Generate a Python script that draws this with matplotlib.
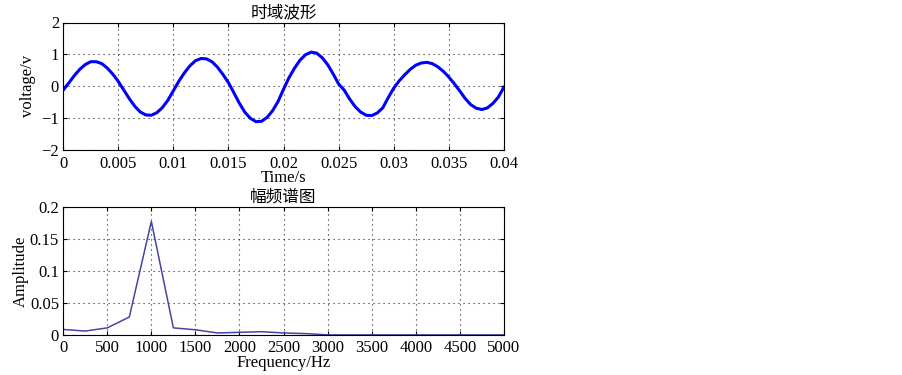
import matplotlib
matplotlib.use('Agg')
import matplotlib.pyplot as plt
import numpy as np

plt.rcParams['font.family'] = ['Liberation Serif', 'Noto Sans CJK SC']
plt.rcParams['font.size'] = 12

# 时域波形 (读图估计, 每 0.5 ms 一点)
t = np.arange(81) * 0.0005
voltage = [
    -0.12, 0.10, 0.33, 0.53, 0.68, 0.77, 0.77, 0.71, 0.57, 0.38,
    0.15, -0.12, -0.39, -0.63, -0.81, -0.90, -0.91, -0.83, -0.67, -0.44,
    -0.14, 0.16, 0.42, 0.64, 0.80, 0.87, 0.86, 0.77, 0.60, 0.37,
    0.11, -0.21, -0.54, -0.82, -1.01, -1.11, -1.10, -0.98, -0.77, -0.48,
    -0.09, 0.27, 0.57, 0.82, 0.99, 1.07, 1.04, 0.90, 0.68, 0.39,
    0.07, -0.12, -0.40, -0.64, -0.81, -0.91, -0.92, -0.84, -0.68, -0.36,
    -0.06, 0.17, 0.36, 0.53, 0.66, 0.73, 0.75, 0.71, 0.61, 0.47,
    0.29, 0.08, -0.15, -0.39, -0.58, -0.69, -0.73, -0.68, -0.54, -0.34,
    -0.03,
]

# 幅频谱
freq = np.arange(21) * 250
amplitude = [
    0.0085, 0.006, 0.011, 0.028, 0.178, 0.011, 0.008, 0.003, 0.004, 0.005,
    0.003, 0.002, 0.0, 0.0, 0.0, 0.0, 0.0, 0.0, 0.0, 0.0, 0.0,
]

fig = plt.figure(figsize=(9.03, 3.75), dpi=100)
ax1 = fig.add_axes([0.070, 0.600, 0.488, 0.340])
ax2 = fig.add_axes([0.070, 0.107, 0.488, 0.340])

ax1.plot(t, voltage, color='#0000ff', linewidth=2.2)
ax1.set_xlim(0, 0.04)
ax1.set_ylim(-2, 2)
ax1.set_xticks(np.arange(0, 0.0401, 0.005))
ax1.set_xticklabels(['0', '0.005', '0.01', '0.015', '0.02', '0.025', '0.03', '0.035', '0.04'])
ax1.set_yticks([-2, -1, 0, 1, 2])
ax1.set_yticklabels(['\u22122', '\u22121', '0', '1', '2'])
ax1.set_xlabel('Time/s', labelpad=-1)
ax1.set_ylabel('voltage/v', labelpad=4)
ax1.set_title('时域波形', fontsize=12, pad=4)

ax2.plot(freq, amplitude, color='#4444a4', linewidth=1.1)
ax2.set_xlim(0, 5000)
ax2.set_ylim(0, 0.2)
ax2.set_xticks(np.arange(0, 5001, 500))
ax2.set_yticks([0, 0.05, 0.1, 0.15, 0.2])
ax2.set_yticklabels(['0', '0.05', '0.1', '0.15', '0.2'])
ax2.set_xlabel('Frequency/Hz', labelpad=-1)
ax2.set_ylabel('Amplitude', labelpad=1)
ax2.set_title('幅频谱图', fontsize=12, pad=4)

for ax in (ax1, ax2):
    ax.grid(True, linestyle=(0, (1, 3.5)), color='#222222', linewidth=0.8)
    ax.tick_params(direction='in', top=True, right=True, length=3)
    ax.tick_params(axis='x', pad=4)
    ax.tick_params(axis='y', pad=3)
    for s in ax.spines.values():
        s.set_linewidth(0.8)

fig.savefig('out.png', dpi=100)
